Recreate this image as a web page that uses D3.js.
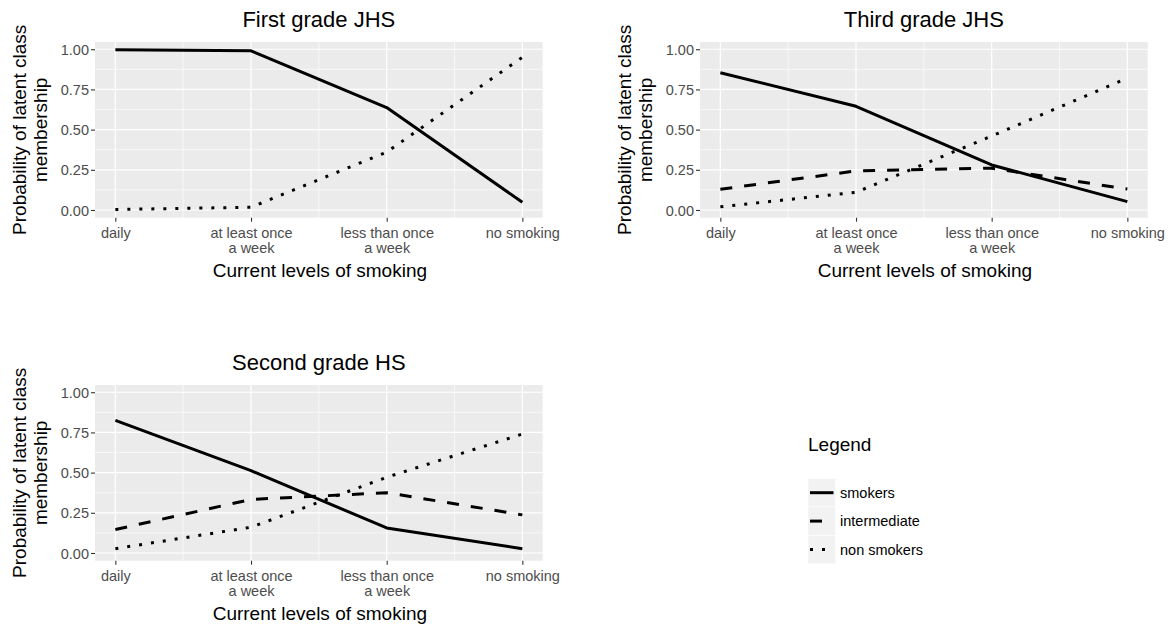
<!DOCTYPE html>
<html>
<head>
<meta charset="utf-8">
<script src="https://cdn.jsdelivr.net/npm/d3@7"></script>
<style>
  body { margin: 0; background: #fff; }
  text { font-family: "Liberation Sans", Arial, sans-serif; }
</style>
</head>
<body>
<svg id="chart" width="1175" height="631"></svg>
<script>
// categories on the x axis (each label split in lines)
const categories = ["daily", "at least once", "less than once", "no smoking"];
const categoryLines = [["daily"], ["at least once", "a week"], ["less than once", "a week"], ["no smoking"]];
const yTicks = [0, 0.25, 0.5, 0.75, 1];
const yMinor = [0.125, 0.375, 0.625, 0.875];

// First grade JHS
const firstSmokers = [0.997, 0.99, 0.637, 0.048];
const firstNonSmokers = [0.003, 0.017, 0.36, 0.95];
// Third grade JHS
const thirdSmokers = [0.854, 0.645, 0.28, 0.052];
const thirdIntermediate = [0.129, 0.243, 0.26, 0.13];
const thirdNonSmokers = [0.02, 0.11, 0.46, 0.82];
// Second grade HS
const secondSmokers = [0.825, 0.512, 0.156, 0.027];
const secondIntermediate = [0.146, 0.333, 0.375, 0.237];
const secondNonSmokers = [0.027, 0.16, 0.471, 0.74];

const legendNames = ["smokers", "intermediate", "non smokers"];
const dashes = { "smokers": null, "intermediate": "12,12", "non smokers": "3,9" };

const panels = [
  { title: "First grade JHS", left: 95, top: 42,
    series: [["smokers", firstSmokers], ["non smokers", firstNonSmokers]] },
  { title: "Third grade JHS", left: 700, top: 42,
    series: [["smokers", thirdSmokers], ["intermediate", thirdIntermediate], ["non smokers", thirdNonSmokers]] },
  { title: "Second grade HS", left: 95, top: 385,
    series: [["smokers", secondSmokers], ["intermediate", secondIntermediate], ["non smokers", secondNonSmokers]] }
];

const pw = 447.7, ph = 175.7;
const svg = d3.select("#chart");

panels.forEach(p => {
  const g = svg.append("g").attr("transform", `translate(${p.left},${p.top})`);
  const x = d3.scalePoint().domain(categories).range([0, pw]).padding(0.15);
  const y = d3.scaleLinear().domain([-0.048, 1.045]).range([ph, 0]);
  const step = x.step();

  g.append("rect").attr("width", pw).attr("height", ph).attr("fill", "#EBEBEB");

  // minor grid
  yMinor.forEach(v => g.append("line").attr("x1", 0).attr("x2", pw)
    .attr("y1", y(v)).attr("y2", y(v)).attr("stroke", "#fff").attr("stroke-width", 0.6));
  categories.slice(0, -1).forEach(c => g.append("line")
    .attr("x1", x(c) + step / 2).attr("x2", x(c) + step / 2)
    .attr("y1", 0).attr("y2", ph).attr("stroke", "#fff").attr("stroke-width", 0.6));
  // major grid
  yTicks.forEach(v => g.append("line").attr("x1", 0).attr("x2", pw)
    .attr("y1", y(v)).attr("y2", y(v)).attr("stroke", "#fff").attr("stroke-width", 1.2));
  categories.forEach(c => g.append("line").attr("x1", x(c)).attr("x2", x(c))
    .attr("y1", 0).attr("y2", ph).attr("stroke", "#fff").attr("stroke-width", 1.2));

  // axes
  const yAxis = g.append("g").call(d3.axisLeft(y).tickValues(yTicks).tickFormat(d3.format(".2f"))
    .tickSize(4).tickPadding(2));
  const xAxis = g.append("g").attr("transform", `translate(0,${ph})`)
    .call(d3.axisBottom(x).tickSize(4).tickPadding(2).tickFormat(""));
  [yAxis, xAxis].forEach(a => {
    a.select(".domain").remove();
    a.selectAll(".tick line").attr("stroke", "#333").attr("stroke-width", 1.1);
  });
  yAxis.selectAll(".tick text").attr("fill", "#4D4D4D").style("font-size", "14.5px").attr("dy", "0.35em");
  xAxis.selectAll(".tick").each(function (d, i) {
    const t = d3.select(this).append("text").attr("fill", "#4D4D4D")
      .attr("text-anchor", "middle").style("font-size", "14.5px").attr("y", 20.6);
    categoryLines[i].forEach((line, k) => t.append("tspan").attr("x", 0).attr("dy", k ? 15 : 0).text(line));
  });

  // lines
  const line = d3.line().x((d, i) => x(categories[i])).y(d => y(d));
  p.series.forEach(([name, vals]) => {
    g.append("path").datum(vals).attr("d", line)
      .attr("fill", "none").attr("stroke", "#000").attr("stroke-width", 3)
      .attr("stroke-linejoin", "round")
      .attr("stroke-dasharray", dashes[name]);
  });

  // titles
  g.append("text").attr("x", pw / 2).attr("y", -15.3).attr("text-anchor", "middle")
    .style("font-size", "22px").attr("fill", "#000").text(p.title);
  g.append("text").attr("x", pw / 2 + 1).attr("y", ph + 59.6).attr("text-anchor", "middle")
    .style("font-size", "19px").attr("fill", "#000").text("Current levels of smoking");
  const yt = g.append("text").attr("transform", `translate(-69,${ph / 2}) rotate(-90)`)
    .attr("text-anchor", "middle").style("font-size", "19px").attr("fill", "#000");
  yt.append("tspan").attr("x", 0).attr("y", 0).text("Probability of latent class");
  yt.append("tspan").attr("x", 0).attr("y", 21).text("membership");
});

// legend
const lg = svg.append("g").attr("transform", "translate(808,451)");
lg.append("text").attr("x", 0).attr("y", 0).style("font-size", "19px").attr("fill", "#000").text("Legend");
legendNames.forEach((name, i) => {
  const ry = 27.5 + i * 28.4;
  lg.append("rect").attr("x", 0).attr("y", ry).attr("width", 27.5).attr("height", 28.4)
    .attr("fill", "#F2F2F2").attr("stroke", "#fff").attr("stroke-width", 0.5);
  lg.append("line").attr("x1", 2).attr("x2", 25.5).attr("y1", ry + 14.2).attr("y2", ry + 14.2)
    .attr("stroke", "#000").attr("stroke-width", 3).attr("stroke-dasharray", dashes[name]);
  lg.append("text").attr("x", 32).attr("y", ry + 19.2).style("font-size", "14.5px")
    .attr("fill", "#000").text(name);
});
</script>
</body>
</html>
